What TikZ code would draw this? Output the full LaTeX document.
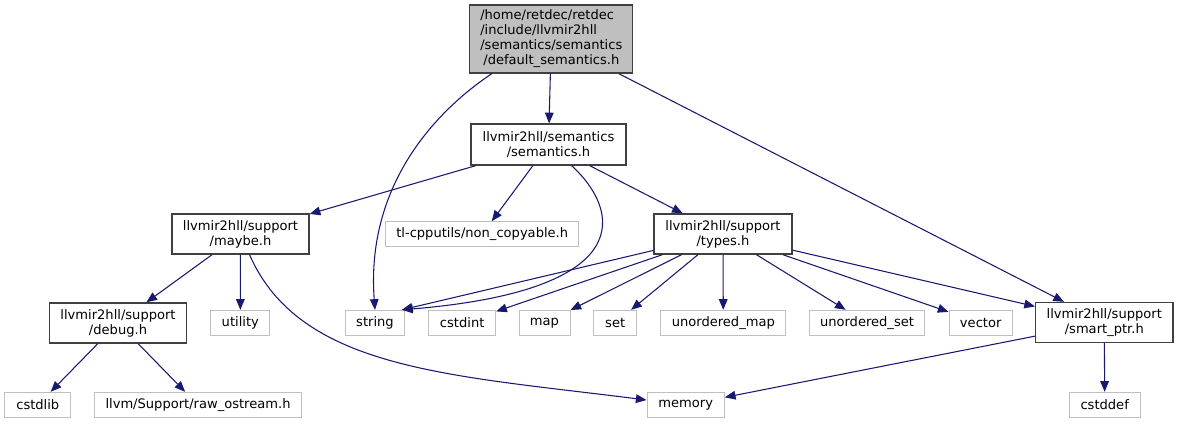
\documentclass[tikz,border=0pt]{standalone}
\usepackage{fontspec}
\setmainfont{DejaVu Sans}
\usetikzlibrary{arrows.meta}
\definecolor{edgec}{HTML}{191970}
\definecolor{docb}{HTML}{404040}
\definecolor{extb}{HTML}{BFBFBF}
\definecolor{topfill}{HTML}{BFBFBF}
\begin{document}
\begin{tikzpicture}[x=0.75pt,y=-0.75pt,
  sz/.style 2 args={minimum width=#1*0.75pt, minimum height=#2*0.75pt},
  box/.style={rectangle, inner sep=0pt, align=center, font=\fontsize{9.8}{11.25}\selectfont, line width=0.75pt},
  docbox/.style={box, draw=docb, line width=1pt},
  extbox/.style={box, draw=extb},
  topbox/.style={box, draw=docb, line width=1pt, fill=topfill, align=left},
  edge/.style={draw=edgec, line width=0.8pt, -{Triangle[length=8pt,width=6.5pt]}}]
\useasboundingbox (0,0) rectangle (1179,424);
% nodes
\node[topbox, sz={163}{68}] (top) at (551.3,39) {/home/retdec/retdec\\/include/llvmir2hll\\/semantics/semantics\hspace*{12pt}\\\hspace*{2.3pt}/default\_semantics.h};
\node[docbox, sz={155}{41}] (sem) at (548.5,144.5) {llvmir2hll/semantics\\/semantics.h};
\node[docbox, sz={137}{40}] (maybe) at (240.5,234) {llvmir2hll/support\\/maybe.h};
\node[extbox, sz={193}{25}] (noncopy) at (482.2,234.2) {tl-cpputils/non\_copyable.h};
\node[docbox, sz={138}{40}] (types) at (723,234) {llvmir2hll/support\\/types.h};
\node[docbox, sz={137.4}{40}] (debug) at (118,323) {llvmir2hll/support\\/debug.h};
\node[docbox, sz={137.3}{40}] (smart) at (1104.3,322.5) {llvmir2hll/support\\/smart\_ptr.h};
\node[extbox, sz={59.3}{25.4}] (utility) at (240.3,323) {utility};
\node[extbox, sz={58.3}{25.4}] (string) at (375,323) {string};
\node[extbox, sz={67}{25.4}] (cstdint) at (462.2,323) {cstdint};
\node[extbox, sz={51}{25.4}] (map) at (544.5,323) {map};
\node[extbox, sz={43}{25.4}] (set) at (615.2,323) {set};
\node[extbox, sz={124.7}{25.4}] (umap) at (723.3,323) {unordered\_map};
\node[extbox, sz={115.4}{25.4}] (uset) at (867,323) {unordered\_set};
\node[extbox, sz={63.3}{25.4}] (vector) at (980.7,323) {vector};
\node[extbox, sz={65.7}{25.4}] (cstdlib) at (37.8,405) {cstdlib};
\node[extbox, sz={207.4}{25.4}] (raw) at (198,405) {llvm/Support/raw\_ostream.h};
\node[extbox, sz={77.3}{25.4}] (memory) at (685.7,405) {memory};
\node[extbox, sz={70.7}{25.4}] (cstddef) at (1104.7,405) {cstddef};
% edges
\draw[edge] ([xshift=17pt]top.south west) .. controls (430,115) and (366,190) .. (string.north);
\draw[edge] (top) -- (sem);
\draw[edge] (top) -- (smart);
\draw[edge] (sem) -- (maybe);
\draw[edge] (sem) -- (noncopy);
\draw[edge] (sem) .. controls (620,210) and (640,290) .. ([xshift=-2pt]string.north east);
\draw[edge] (sem) -- (types);
\draw[edge] (maybe) -- (debug);
\draw[edge] (maybe) -- (utility);
\draw[edge] (maybe) .. controls (300,370) and (450,375) .. (memory);
\draw[edge] (types) -- ([xshift=-2pt]string.north east);
\draw[edge] (types) -- (cstdint);
\draw[edge] (types) -- (map);
\draw[edge] (types) -- (set);
\draw[edge] (types) -- (umap);
\draw[edge] (types) -- (uset);
\draw[edge] (types) -- (vector);
\draw[edge] (types) -- (smart);
\draw[edge] (debug) -- (cstdlib);
\draw[edge] (debug) -- (raw);
\draw[edge] (smart) -- (memory);
\draw[edge] (smart) -- (cstddef);
\end{tikzpicture}
\end{document}
